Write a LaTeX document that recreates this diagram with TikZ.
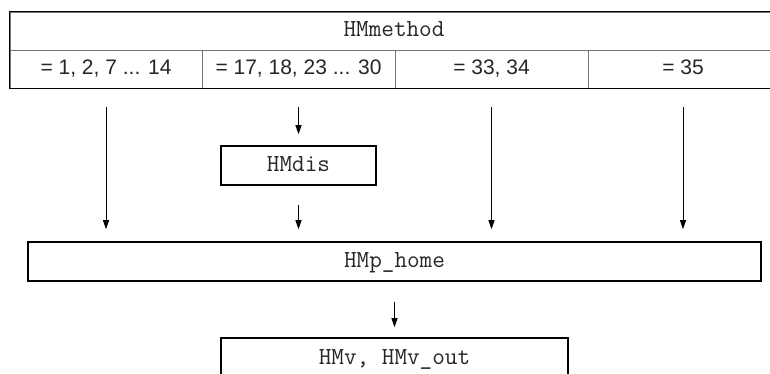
\documentclass[tikz,border=0pt]{standalone}
\usepackage{fontspec}
\setmainfont{Liberation Sans}
\usetikzlibrary{arrows.meta}
\tikzset{
  cell/.style={draw=black!55, line width=0.7pt, inner sep=0pt, minimum height=38pt,
    text height=15pt, text depth=4pt,
    font=\fontsize{21}{25}\selectfont, text=black!85},
  titlecell/.style={draw=black!55, line width=0.7pt, inner sep=0pt, minimum height=38pt,
    text height=16pt, text depth=4pt,
    font=\ttfamily\fontsize{24.5}{28}\selectfont, text=black!85},
  box/.style={draw=black, line width=1.6pt, inner sep=0pt,
    text height=16pt, text depth=4pt,
    font=\ttfamily\fontsize{24.5}{28}\selectfont, text=black!85},
  arr/.style={draw=black, line width=0.9pt, -{Triangle[length=9pt,width=6pt]}},
}
\begin{document}
\begin{tikzpicture}[x=1pt,y=-1pt]
\useasboundingbox (0,0) rectangle (770,374);
\clip (0,0) rectangle (770,374);
% top table
\node[titlecell, minimum width=768pt] (title) at (394,31) {HMmethod};
\node[cell, minimum width=192pt] (c1) at (106,69) {= 1, 2, 7 ... 14};
\node[cell, minimum width=193pt] (c2) at (298.5,69) {= 17, 18, 23 ... 30};
\node[cell, minimum width=193pt] (c3) at (491.5,69) {= 33, 34};
\node[cell, minimum width=190pt] (c4) at (683,69) {= 35};
\draw[line width=1.6pt] (title.north west) rectangle (c4.south east);
% middle boxes
\node[box, minimum width=155pt, minimum height=39pt] (dis) at (298.5,165.5) {HMdis};
\node[box, minimum width=733pt, minimum height=39pt] (home) at (394.5,261.5) {HMp\_home};
\node[box, minimum width=347pt, minimum height=40pt] (out) at (394.5,358) {HMv, HMv\_out};
% arrows
\draw[arr, shorten <=19pt, shorten >=12pt] (c1.south) -- (c1.south |- home.north);
\draw[arr, shorten <=19pt, shorten >=11pt] (c2.south) -- (dis.north);
\draw[arr, shorten <=19pt, shorten >=12pt] (dis.south) -- (dis.south |- home.north);
\draw[arr, shorten <=19pt, shorten >=12pt] (c3.south) -- (c3.south |- home.north);
\draw[arr, shorten <=19pt, shorten >=12pt] (c4.south) -- (c4.south |- home.north);
\draw[arr, shorten <=20pt, shorten >=10pt] (home.south) -- (out.north);
\end{tikzpicture}
\end{document}
